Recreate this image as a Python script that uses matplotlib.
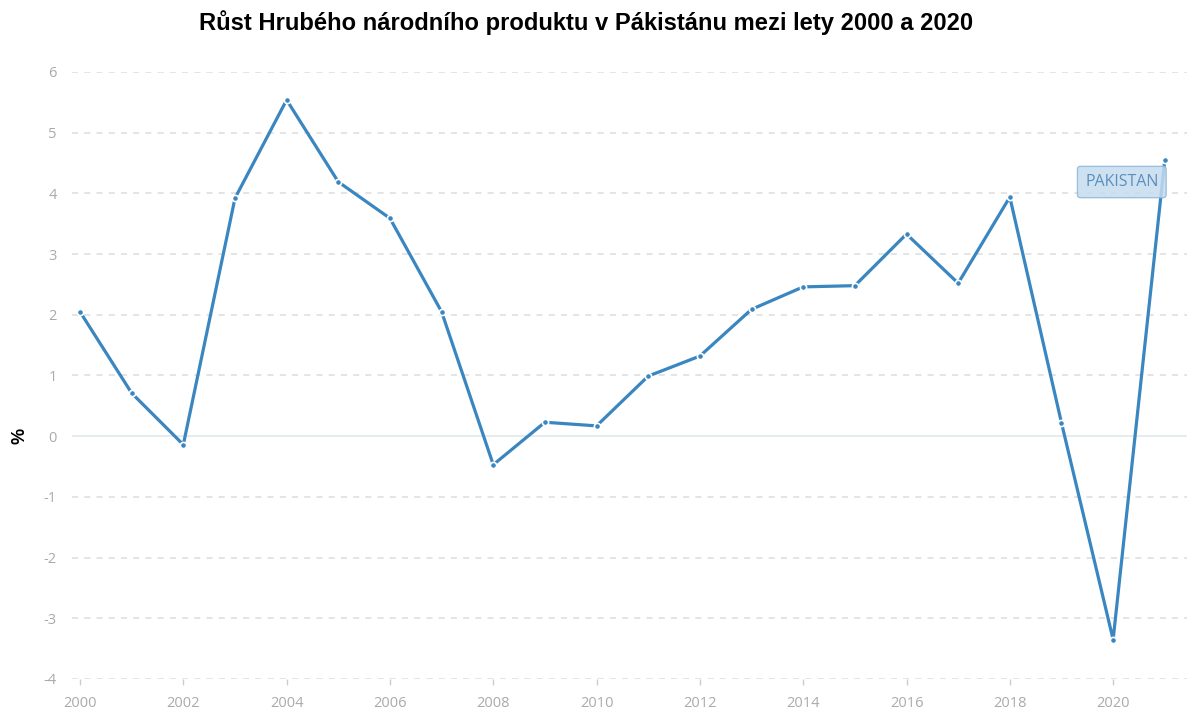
import matplotlib
matplotlib.use("Agg")
import matplotlib.pyplot as plt

# ── Data ───────────────────────────────────────────────────────────────────────
years = list(range(2000, 2022))
gdp_growth = [2.05, 0.71, -0.14, 3.92, 5.54, 4.19, 3.59, 2.05, -0.47, 0.23, 0.17,
              0.99, 1.32, 2.09, 2.46, 2.48, 3.33, 2.52, 3.94, 0.22, -3.35, 4.55]
x_ticks = list(range(2000, 2021, 2))
y_ticks = list(range(-4, 7))

TITLE = "Růst Hrubého národního produktu v Pákistánu mezi lety 2000 a 2020"
SERIES_LABEL = "PAKISTAN"

# ── Style ──────────────────────────────────────────────────────────────────────
LINE_COLOR = "#3a86c0"
TICK_COLOR = "#aaaaaa"
GRID_COLOR = "#dddddd"

plt.rcParams["font.family"] = ["Open Sans", "DejaVu Sans"]
plt.rcParams["axes.unicode_minus"] = False

fig = plt.figure(figsize=(11.87, 7.09), dpi=100)
ax = fig.add_axes([72 / 1187, 1 - 679 / 709, 1 - 72 / 1187, (679 - 72) / 709])

ax.plot(years, gdp_growth, color=LINE_COLOR, linewidth=2.3, marker="o",
        markersize=4.5, markerfacecolor=LINE_COLOR, markeredgecolor="white",
        markeredgewidth=1.2, zorder=3, solid_capstyle="round")

ax.set_xlim(1999.845, 2021.43)
ax.set_ylim(-4, 6)
ax.set_xticks(x_ticks)
ax.set_yticks(y_ticks)

for y in y_ticks:
    if y == 0:
        ax.axhline(y, color="#e6ecee", linewidth=1.4, zorder=1)
    else:
        ax.axhline(y, color=GRID_COLOR, linewidth=1.1, linestyle=(0, (4, 4)), zorder=1)

for s in ax.spines.values():
    s.set_visible(False)

ax.tick_params(axis="x", colors=TICK_COLOR, length=4, width=1, pad=8, labelsize=10.5,
               color="#cccccc")
ax.tick_params(axis="y", colors=TICK_COLOR, length=0, pad=11, labelsize=10.5)

ax.set_ylabel("%", fontsize=13, fontweight="bold", color="black",
              family=["Liberation Sans", "DejaVu Sans"])
ax.yaxis.set_label_coords(-0.039, 0.40)

fig.suptitle(TITLE, x=0.494, y=0.985, fontsize=17.1, fontweight="bold",
             family=["Liberation Sans", "DejaVu Sans"], va="top")

ax.annotate(SERIES_LABEL, xy=(years[-1], gdp_growth[-1]), xytext=(-43, -22),
            textcoords="offset pixels", ha="center", va="center",
            fontsize=11.5, color="#5b8fc0", zorder=4,
            bbox=dict(boxstyle="round,pad=0.48,rounding_size=0.2",
                      facecolor="#c6dcef", edgecolor="#8fb8dc", alpha=0.85))

fig.savefig("out.png", dpi=100)
plt.close(fig)
